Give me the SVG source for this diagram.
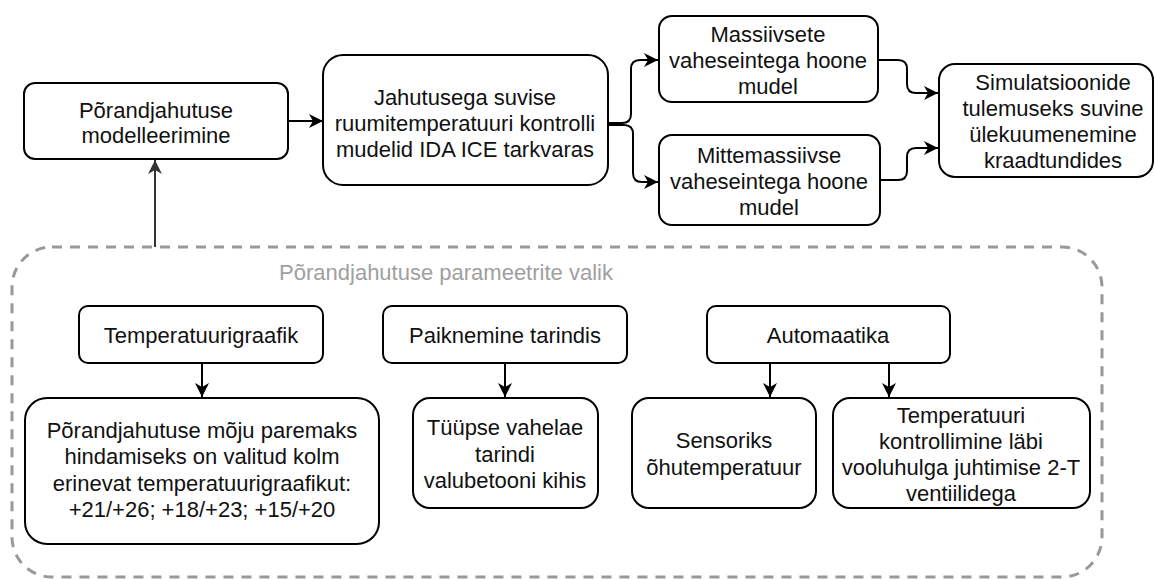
<svg xmlns="http://www.w3.org/2000/svg" width="1155" height="580" viewBox="0 0 1155 580">
<defs>
<style>
.box{fill:#fff;stroke:#000;stroke-width:2}
.t{font-family:"Liberation Sans",Arial,Helvetica,sans-serif;font-size:22px;fill:#111;text-anchor:middle}
.lbl{font-family:"Liberation Sans",Arial,Helvetica,sans-serif;font-size:22px;fill:#a0a0a0;text-anchor:middle}
.c{fill:none;stroke:#000;stroke-width:2}
.cg{fill:none;stroke:#333;stroke-width:2}
.dash{fill:none;stroke:#999;stroke-width:3;stroke-dasharray:10 8}
</style>
<marker id="ah" markerUnits="userSpaceOnUse" markerWidth="16" markerHeight="16" refX="14" refY="7" orient="auto" viewBox="0 0 16 14">
<path d="M14,7 L0,0 L4,7 L0,14 Z" fill="#000"/>
</marker>
<marker id="ahg" markerUnits="userSpaceOnUse" markerWidth="16" markerHeight="16" refX="14" refY="7" orient="auto" viewBox="0 0 16 14">
<path d="M14,7 L0,0 L4,7 L0,14 Z" fill="#333"/>
</marker>
</defs>

<g id="container">
<rect class="dash" x="12" y="247" width="1090" height="330" rx="40" ry="40"/>
<text class="lbl" x="446" y="280">Põrandjahutuse parameetrite valik</text>
</g>

<g id="connectors">
<path class="c" d="M288,121 L323,121" marker-end="url(#ah)"/>
<path class="cg" d="M155,247 L155,160" marker-end="url(#ahg)"/>
<path class="c" d="M608,123 L622,123 Q631,123 631,114 L631,69 Q631,60 640,60 L658,60" marker-end="url(#ah)"/>
<path class="c" d="M608,125 L624,125 Q633,125 633,134 L633,173 Q633,182 642,182 L658,182" marker-end="url(#ah)"/>
<path class="c" d="M878,60 L898,60 Q907,60 907,69 L907,84 Q907,93 916,93 L938,93" marker-end="url(#ah)"/>
<path class="c" d="M880,180 L898,180 Q907,180 907,171 L907,157 Q907,148 916,148 L938,148" marker-end="url(#ah)"/>
<path class="c" d="M202,363 L202,397" marker-end="url(#ah)"/>
<path class="c" d="M505,363 L505,397" marker-end="url(#ah)"/>
<path class="c" d="M770,363 L770,397" marker-end="url(#ah)"/>
<path class="c" d="M889,363 L889,397" marker-end="url(#ah)"/>
</g>

<g id="node-modelleerimine">
<rect class="box" x="24" y="83" width="264" height="76" rx="11"/>
<text class="t" x="156" y="118">Põrandjahutuse</text>
<text class="t" x="156" y="143">modelleerimine</text>
</g>

<g id="node-jahutusega">
<rect class="box" x="323" y="55" width="285" height="130" rx="20"/>
<text class="t" x="465" y="105">Jahutusega suvise</text>
<text class="t" x="465" y="131">ruumitemperatuuri kontrolli</text>
<text class="t" x="465" y="157">mudelid IDA ICE tarkvaras</text>
</g>

<g id="node-massiivsete">
<rect class="box" x="659" y="16" width="219" height="86" rx="13"/>
<text class="t" x="768" y="42">Massiivsete</text>
<text class="t" x="768" y="68">vaheseintega hoone</text>
<text class="t" x="768" y="94">mudel</text>
</g>

<g id="node-mittemassiivse">
<rect class="box" x="659" y="135" width="221" height="90" rx="13"/>
<text class="t" x="769" y="163">Mittemassiivse</text>
<text class="t" x="769" y="189">vaheseintega hoone</text>
<text class="t" x="769" y="215">mudel</text>
</g>

<g id="node-simulatsioonide">
<rect class="box" x="939" y="64" width="214" height="113" rx="16"/>
<text class="t" x="1053" y="90">Simulatsioonide</text>
<text class="t" x="1053" y="116">tulemuseks suvine</text>
<text class="t" x="1053" y="142">ülekuumenemine</text>
<text class="t" x="1053" y="168">kraadtundides</text>
</g>

<g id="node-temperatuurigraafik">
<rect class="box" x="79" y="306" width="244" height="57" rx="9"/>
<text class="t" x="201" y="343">Temperatuurigraafik</text>
</g>

<g id="node-paiknemine">
<rect class="box" x="383" y="306" width="244" height="57" rx="9"/>
<text class="t" x="505" y="343">Paiknemine tarindis</text>
</g>

<g id="node-automaatika">
<rect class="box" x="707" y="306" width="243" height="57" rx="9"/>
<text class="t" x="828" y="343">Automaatika</text>
</g>

<g id="node-mojuhindamine">
<rect class="box" x="25" y="398" width="354" height="146" rx="22"/>
<text class="t" x="202" y="438">Põrandjahutuse mõju paremaks</text>
<text class="t" x="202" y="464">hindamiseks on valitud kolm</text>
<text class="t" x="202" y="491">erinevat temperatuurigraafikut:</text>
<text class="t" x="202" y="517">+21/+26; +18/+23; +15/+20</text>
</g>

<g id="node-tuupse">
<rect class="box" x="413" y="398" width="185" height="110" rx="17"/>
<text class="t" x="505" y="435">Tüüpse vahelae</text>
<text class="t" x="505" y="462">tarindi</text>
<text class="t" x="505" y="488">valubetooni kihis</text>
</g>

<g id="node-sensoriks">
<rect class="box" x="632" y="398" width="184" height="110" rx="17"/>
<text class="t" x="724" y="448">Sensoriks</text>
<text class="t" x="724" y="475">õhutemperatuur</text>
</g>

<g id="node-temperatuuri">
<rect class="box" x="833" y="398" width="257" height="110" rx="17"/>
<text class="t" x="961" y="423">Temperatuuri</text>
<text class="t" x="961" y="449">kontrollimine läbi</text>
<text class="t" x="961" y="475">vooluhulga juhtimise 2-T</text>
<text class="t" x="961" y="501">ventiilidega</text>
</g>
</svg>
